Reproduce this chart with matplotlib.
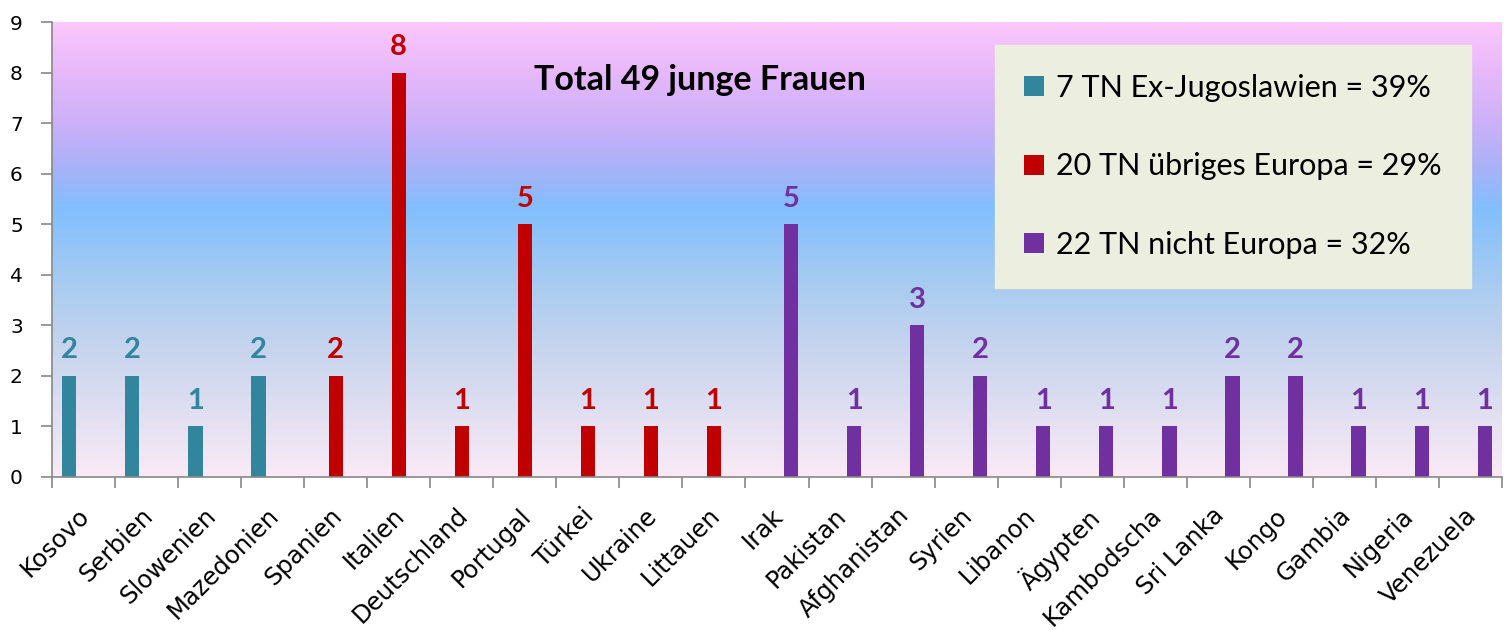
import matplotlib
matplotlib.use("Agg")
import matplotlib.pyplot as plt
from matplotlib.colors import LinearSegmentedColormap
from matplotlib.transforms import ScaledTranslation
import numpy as np

# data
countries = ["Kosovo", "Serbien", "Slowenien", "Mazedonien", "Spanien", "Italien",
             "Deutschland", "Portugal", "Türkei", "Ukraine", "Littauen", "Irak",
             "Pakistan", "Afghanistan", "Syrien", "Libanon", "Ägypten", "Kambodscha",
             "Sri Lanka", "Kongo", "Gambia", "Nigeria", "Venezuela"]
ex_jugo = [2, 2, 1, 2, 0, 0, 0, 0, 0, 0, 0, 0, 0, 0, 0, 0, 0, 0, 0, 0, 0, 0, 0]
europa = [0, 0, 0, 0, 2, 8, 1, 5, 1, 1, 1, 0, 0, 0, 0, 0, 0, 0, 0, 0, 0, 0, 0]
nicht_europa = [0, 0, 0, 0, 0, 0, 0, 0, 0, 0, 0, 5, 1, 3, 2, 1, 1, 1, 2, 2, 1, 1, 1]
series_labels = ["7 TN Ex-Jugoslawien = 39%", "20 TN übriges Europa = 29%",
                 "22 TN nicht Europa = 32%"]
title = "Total 49 junge Frauen"

colors = ["#31859C", "#C00000", "#7030A0"]

plt.rcParams['font.family'] = ['Lato', 'DejaVu Sans']

fig = plt.figure(figsize=(15.1, 6.3), dpi=100)
ax = fig.add_axes([52 / 1510, 1 - 477 / 630, 1450 / 1510, 455 / 630])

# gradient background of the plot area
stops = [(0.0, "#FAEAF6"), (0.27, "#C9D5EE"), (0.42, "#A9CCF0"), (0.59, "#82BFFD"),
         (0.68, "#A8B2F8"), (0.77, "#C9B0F8"), (0.9, "#E9B9FA"), (1.0, "#FBC8FC")]
cmap = LinearSegmentedColormap.from_list("bg", stops)
grad = np.linspace(0, 1, 256).reshape(-1, 1)
ax.imshow(grad, cmap=cmap, aspect="auto", origin="lower",
          extent=[-0.5, len(countries) - 0.5, 0, 9], zorder=0)

x = np.arange(len(countries))
w = 0.225
for k, (vals, col, lab) in enumerate(zip([ex_jugo, europa, nicht_europa], colors, series_labels)):
    pos = x + (k - 1) * w
    bars = ax.bar(pos, vals, width=w, color=col, label=lab, zorder=2)
    for b, v in zip(bars, vals):
        if v:
            ax.annotate(str(v), (b.get_x() + b.get_width() / 2, v), xytext=(0, 9),
                        textcoords="offset points", ha="center", va="bottom",
                        color=col, fontsize=21, fontweight="bold", zorder=3)

ax.set_xlim(-0.5, len(countries) - 0.5)
ax.set_ylim(0, 9)
ax.set_yticks(range(10))
ax.set_yticklabels([str(i) for i in range(10)], family="DejaVu Sans", fontsize=14.5)

ax.set_xticks(np.arange(len(countries) + 1) - 0.5)
ax.set_xticklabels([])
ax.set_xticks(x, minor=True)
ax.set_xticklabels(countries, minor=True, rotation=45, ha="right",
                   rotation_mode="anchor", fontsize=17.5, family="DejaVu Sans")
ax.tick_params(axis="x", which="minor", length=0, pad=19)
ax.tick_params(axis="x", which="major", length=8, color="#888888", width=1.2)
ax.tick_params(axis="y", length=8, color="#888888", width=1.2, pad=13)

# nudge the rotated labels a little to the left
shift = ScaledTranslation(-0.06, 0, fig.dpi_scale_trans)
for lbl in ax.get_xticklabels(minor=True):
    lbl.set_transform(lbl.get_transform() + shift)

for s in ["top", "right"]:
    ax.spines[s].set_visible(False)
for s in ["left", "bottom"]:
    ax.spines[s].set_color("#888888")
    ax.spines[s].set_linewidth(1.2)

fig.text(700 / 1510, 1 - 80 / 630, title, ha="center", va="center",
         fontsize=24.5, fontweight="bold")

leg = ax.legend(loc="upper left", bbox_to_anchor=(995 / 1510, 1 - 45 / 630),
                bbox_transform=fig.transFigure, fontsize=22, frameon=True,
                fancybox=False, borderpad=0.95, labelspacing=1.65,
                handlelength=0.65, handleheight=0.65, handletextpad=0.4,
                borderaxespad=0)
leg.get_frame().set_facecolor("#ECEEDF")
leg.get_frame().set_edgecolor("#ECEEDF")
leg.get_frame().set_alpha(1)
leg.set_zorder(5)

plt.savefig("out.png", dpi=100)
